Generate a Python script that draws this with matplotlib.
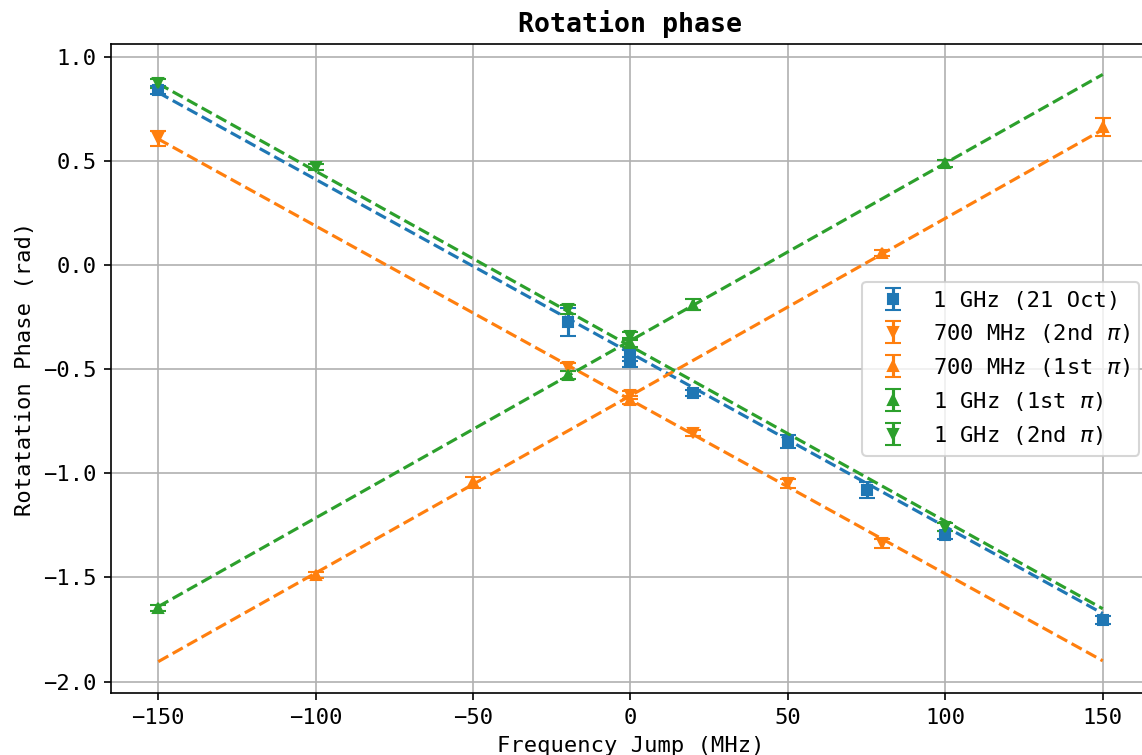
import matplotlib
matplotlib.use("Agg")
import matplotlib.pyplot as plt
import numpy as np

plt.rcParams['font.family'] = ['DejaVu Sans Mono', 'DejaVu Sans']
plt.rcParams['font.size'] = 10.6

# data (frekuensi MHz, fase rad, error rad)
x_blue = [-150, -20, 0, 0, 20, 50, 75, 100, 150]
y_blue = [0.84, -0.272, -0.435, -0.465, -0.616, -0.848, -1.080, -1.296, -1.704]
e_blue = [0.02, 0.067, 0.025, 0.025, 0.015, 0.03, 0.04, 0.02, 0.02]

x_or2 = [-150, -20, 0, 20, 50, 80]
y_or2 = [0.608, -0.491, -0.625, -0.808, -1.048, -1.336]
e_or2 = [0.035, 0.02, 0.02, 0.015, 0.02, 0.02]

x_or1 = [-100, -50, 0, 80, 150]
y_or1 = [-1.488, -1.043, -0.648, 0.056, 0.661]
e_or1 = [0.015, 0.025, 0.02, 0.015, 0.043]

x_gr1 = [-150, -20, 0, 20, 100]
y_gr1 = [-1.648, -0.528, -0.372, -0.190, 0.488]
e_gr1 = [0.015, 0.02, 0.02, 0.025, 0.015]

x_gr2 = [-150, -100, 0, -20, 100]
y_gr2 = [0.872, 0.472, -0.340, -0.213, -1.256]
e_gr2 = [0.02, 0.015, 0.02, 0.02, 0.02]

# garis fit (titik ujung pada -150 dan 150 MHz)
fit_x = [-150, 150]
fit_blue = [0.828, -1.673]
fit_or2 = [0.605, -1.900]
fit_or1 = [-1.904, 0.650]
fit_gr1 = [-1.640, 0.915]
fit_gr2 = [0.871, -1.650]

fig = plt.figure(figsize=(1142 / 150, 755 / 150), dpi=150)
ax = fig.add_axes([0.0972, 0.0817, 0.9098, 0.86])

opts = dict(linestyle='none', capsize=4, markersize=5)
ax.errorbar(x_blue, y_blue, yerr=e_blue, fmt='s', color='C0', label='1 GHz (21 Oct)', **opts)
ax.errorbar(x_or2, y_or2, yerr=e_or2, fmt='v', color='C1', label=r'700 MHz (2nd $\pi$)', **opts)
ax.errorbar(x_or1, y_or1, yerr=e_or1, fmt='^', color='C1', label=r'700 MHz (1st $\pi$)', **opts)
ax.errorbar(x_gr1, y_gr1, yerr=e_gr1, fmt='^', color='C2', label=r'1 GHz (1st $\pi$)', **opts)
ax.errorbar(x_gr2, y_gr2, yerr=e_gr2, fmt='v', color='C2', label=r'1 GHz (2nd $\pi$)', **opts)

ax.plot(fit_x, fit_blue, '--', color='C0')
ax.plot(fit_x, fit_or2, '--', color='C1')
ax.plot(fit_x, fit_or1, '--', color='C1')
ax.plot(fit_x, fit_gr1, '--', color='C2')
ax.plot(fit_x, fit_gr2, '--', color='C2')

ax.set_xlim(-165, 165)
ax.set_ylim(-2.056, 1.061)
ax.grid(True)
ax.set_xlabel('Frequency Jump (MHz)')
ax.set_ylabel('Rotatation Phase (rad)')
ax.set_title('Rotation phase', fontweight='bold')
ax.legend(loc='center right')

fig.savefig('out.png', dpi=150)
